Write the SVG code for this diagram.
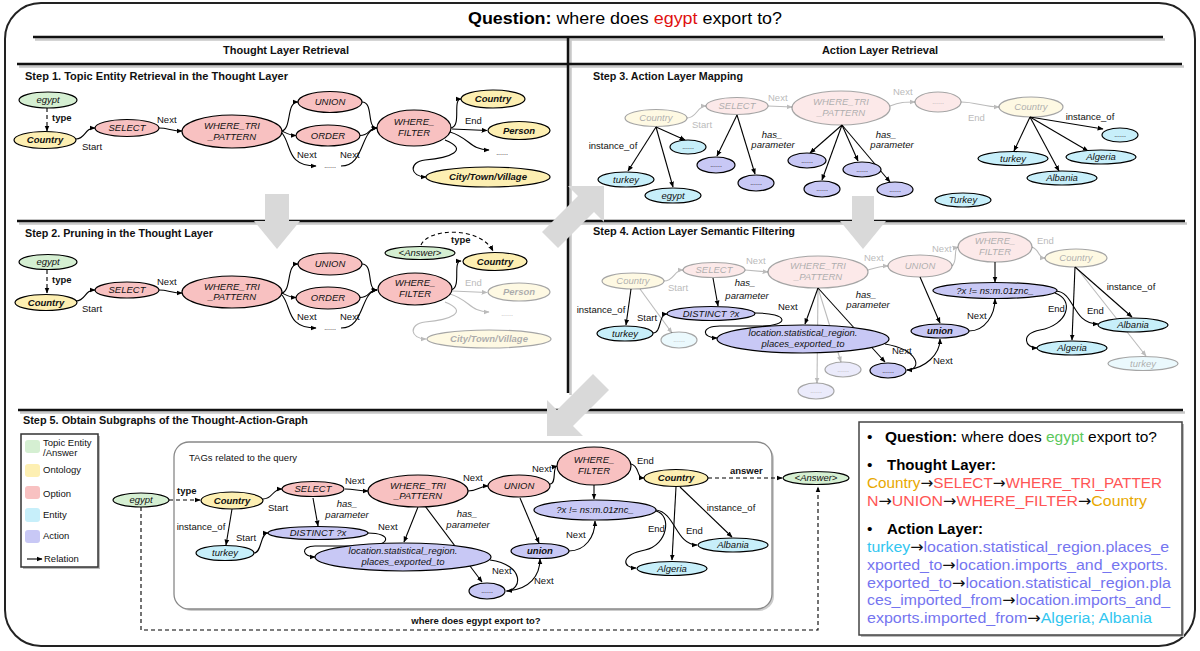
<svg xmlns="http://www.w3.org/2000/svg" width="1200" height="651" viewBox="0 0 1200 651">
<defs>
<marker id="a" viewBox="0 0 10 10" refX="9" refY="5" markerWidth="6" markerHeight="6" markerUnits="userSpaceOnUse" orient="auto"><path d="M0,1 L10,5 L0,9 z" fill="#000"/></marker>
<marker id="ag" viewBox="0 0 10 10" refX="9" refY="5" markerWidth="6" markerHeight="6" markerUnits="userSpaceOnUse" orient="auto"><path d="M0,1 L10,5 L0,9 z" fill="#bbb"/></marker>
<marker id="ab" viewBox="0 0 10 10" refX="9" refY="5" markerWidth="9" markerHeight="9" markerUnits="userSpaceOnUse" orient="auto"><path d="M0,0 L10,5 L0,10 z" fill="#000"/></marker>
</defs>
<style>
.n ellipse{stroke:#000;stroke-width:1.2}
.g{fill:#d5efd2}.y{fill:#fdefb2}.r{fill:#f8c1c1}.c{fill:#c7effa}.p{fill:#c8c8f5}
.t{font-family:"Liberation Sans",Arial,sans-serif;font-size:9.5px;font-style:italic;text-anchor:middle;fill:#111}
.tb{font-weight:bold}
.ts{font-size:7px;font-style:normal}
.e{fill:none;stroke:#000;stroke-width:1.1;marker-end:url(#a)}
.eg{fill:none;stroke:#bbb;stroke-width:1.1;marker-end:url(#ag)}
.d{stroke-dasharray:4 3}
.l{font-family:"Liberation Sans",Arial,sans-serif;font-size:9.5px;fill:#111}
.lc{text-anchor:middle}
.li{font-style:italic}
.lb{font-weight:bold}
.lg{fill:#bbb}
.fd{opacity:.35}
.sep{stroke:#111;stroke-width:2.5;fill:none}
.sh{stroke:#c8c8c8;stroke-width:2.5;fill:none}
.h{font-family:"Liberation Sans",Arial,sans-serif;font-weight:bold;font-size:10px;fill:#111}
.hh{font-size:11px}
.big{fill:#d9d9d9}
.sum{font-family:"Liberation Sans",Arial,sans-serif;font-size:15.5px}
.ar{font-family:"DejaVu Sans",sans-serif;fill:#111}
</style>
<rect width="1200" height="651" fill="#fff"/>
<!-- frame -->
<g id="frame">
<rect x="5" y="3" width="1190" height="643" rx="36" fill="none" stroke="#222" stroke-width="2"/>
<path class="sh" d="M35,39.5 H1165 M570.5,39 V395 M19,66.5 H1184 M19,223.5 H1187 M20,412.5 H1185"/>
<path class="sep" d="M33,37 H1163 M568,37 V393 M17,64 H1182 M17,221 H1185 M18,410 H1183"/>
<text x="468" y="24" font-family="'Liberation Sans',Arial,sans-serif" font-size="16" textLength="314" lengthAdjust="spacingAndGlyphs"><tspan font-weight="bold">Question:</tspan> where does <tspan fill="#e01010">egypt</tspan> export to?</text>
<text class="h hh" x="286" y="54" text-anchor="middle">Thought Layer Retrieval</text>
<text class="h hh" x="880" y="54" text-anchor="middle">Action Layer Retrieval</text>
<text class="h" x="25" y="80" textLength="263" lengthAdjust="spacingAndGlyphs">Step 1. Topic Entity Retrieval in the Thought Layer</text>
<text class="h" x="25" y="237" textLength="188" lengthAdjust="spacingAndGlyphs">Step 2. Pruning in the Thought Layer</text>
<text class="h" x="593" y="80" textLength="150" lengthAdjust="spacingAndGlyphs">Step 3. Action Layer Mapping</text>
<text class="h" x="593" y="235" textLength="202" lengthAdjust="spacingAndGlyphs">Step 4. Action Layer Semantic Filtering</text>
<text class="h" x="23" y="424" textLength="285" lengthAdjust="spacingAndGlyphs">Step 5. Obtain Subgraphs of the Thought-Action-Graph</text>
</g>
<!-- big grey arrows -->
<g id="big-arrows">
<polygon class="big" points="265,194 289,194 289,221 300,221 277,249 254,221 265,221"/>
<polygon class="big" points="852,196 874,196 874,221 886,221 863,249 840,221 852,221"/>
<polygon class="big" points="604,186 568,186 578,196 542,232 558,248 594,212 604,222"/>
<polygon class="big" points="547,436 583,436 573,426 609,390 593,374 557,410 547,400"/>
</g>

<!-- ================= STEP 1 ================= -->
<g id="s1-edges">
<path class="e d" d="M47,108 V131"/>
<text class="l lb" x="52" y="121">type</text>
<path class="e" d="M76,139 C86,139 84,128 95,128"/>
<text class="l" x="82" y="150">Start</text>
<path class="e" d="M159,128 C168,128 172,131 182,131"/>
<text class="l" x="157" y="123">Next</text>
<path class="e" d="M282,131 C292,128 286,102 298,102"/>
<path class="e" d="M282,131 C288,134 290,135.5 296,135.5"/>
<path class="e" d="M282,133 C292,145 286,166 316,166"/>
<text class="l" x="297" y="158">Next</text>
<path class="e" d="M341,166 C365,166 360,130 377,128"/>
<text class="l" x="340" y="158">Next</text>
<path class="e" d="M362,102 C374,102 366,128 377,128"/>
<path class="e" d="M360,135.5 C370,135.5 368,128 377,128"/>
<path class="e" d="M451,128 C462,126 452,99 461,99"/>
<path class="e" d="M452,129 L487,130.5"/>
<text class="l" x="465" y="124">End</text>
<path class="e" d="M450,132 C470,138 470,150 489,150"/>
<path class="e" d="M445,140 C470,150 450,158 425,160 C408,162 410,177 426,177"/>
</g>
<g id="s1-egypt" class="n"><ellipse class="g" cx="48" cy="100" rx="29" ry="8"/><text class="t" x="48" y="103.3">egypt</text></g>
<g id="s1-country" class="n"><ellipse class="y" cx="45" cy="140" rx="31" ry="8.5"/><text class="t tb" x="45" y="143.3">Country</text></g>
<g id="s1-select" class="n"><ellipse class="r" cx="127" cy="128" rx="32" ry="8.5"/><text class="t" x="127" y="131.3">SELECT</text></g>
<g id="s1-wtp" class="n"><ellipse class="r" cx="232" cy="131.5" rx="50" ry="16.5"/><text class="t" x="232" y="129">WHERE_TRI</text><text class="t" x="232" y="139.5">_PATTERN</text></g>
<g id="s1-union" class="n"><ellipse class="r" cx="330" cy="102" rx="32" ry="10.5"/><text class="t" x="330" y="105.3">UNION</text></g>
<g id="s1-order" class="n"><ellipse class="r" cx="328" cy="135.5" rx="32" ry="10.5"/><text class="t" x="328" y="138.8">ORDER</text></g>
<g id="s1-dots"><text class="t ts" x="330" y="168">......</text></g>
<g id="s1-wf" class="n"><ellipse class="r" cx="414" cy="128" rx="37" ry="18"/><text class="t" x="414" y="125">WHERE_</text><text class="t" x="414" y="135.5">FILTER</text></g>
<g id="s1-country2" class="n"><ellipse class="y" cx="493" cy="99" rx="32" ry="9"/><text class="t tb" x="493" y="102.3">Country</text></g>
<g id="s1-person" class="n"><ellipse class="y" cx="519" cy="130.5" rx="31" ry="9"/><text class="t tb" x="519" y="133.8">Person</text></g>
<g id="s1-dots2"><text class="t ts" x="502" y="155">......</text></g>
<g id="s1-city" class="n"><ellipse class="y" cx="488" cy="177" rx="62" ry="10"/><text class="t tb" x="488" y="180.3">City/Town/Village</text></g>

<!-- ================= STEP 2 ================= -->
<g id="step2" transform="translate(0,162)">
<g id="s2-edges">
<path class="e d" d="M47,108 V131" marker-end="url(#ab)"/>
<text class="l lb" x="52" y="121">type</text>
<path class="e" d="M76,139 C86,139 84,128 95,128"/>
<text class="l" x="82" y="150">Start</text>
<path class="e" d="M159,128 C168,128 172,131 182,131"/>
<text class="l" x="157" y="123">Next</text>
<path class="e" d="M282,131 C292,128 286,102 298,102"/>
<path class="e" d="M282,131 C288,134 290,135.5 296,135.5"/>
<path class="e" d="M282,133 C292,145 286,166 316,166"/>
<text class="l" x="297" y="158">Next</text>
<path class="e" d="M341,166 C365,166 360,130 377,128"/>
<text class="l" x="340" y="158">Next</text>
<path class="e" d="M362,102 C374,102 366,128 377,128"/>
<path class="e" d="M360,135.5 C370,135.5 368,128 377,128"/>
<path class="e" d="M451,128 C462,126 452,99 461,99"/>
<path class="eg" d="M452,129 L487,130.5"/>
<text class="l lg" x="465" y="124">End</text>
<path class="eg" d="M450,132 C470,138 470,150 489,150"/>
<path class="eg" d="M445,140 C470,150 450,158 425,160 C408,162 410,177 426,177"/>
<path class="e d" d="M421,83 C428,66 480,64 493,89" marker-end="url(#ab)"/>
<text class="l lb" x="451" y="81">type</text>
</g>
<g id="s2-egypt" class="n"><ellipse class="g" cx="48" cy="100" rx="29" ry="7.5"/><text class="t" x="48" y="103.3">egypt</text></g>
<g id="s2-country" class="n"><ellipse class="y" cx="46" cy="140.5" rx="31" ry="8"/><text class="t tb" x="46" y="143.8">Country</text></g>
<g id="s2-select" class="n"><ellipse class="r" cx="127" cy="128" rx="32" ry="8"/><text class="t" x="127" y="131.3">SELECT</text></g>
<g id="s2-wtp" class="n"><ellipse class="r" cx="232" cy="130" rx="50" ry="16"/><text class="t" x="232" y="127.5">WHERE_TRI</text><text class="t" x="232" y="138">_PATTERN</text></g>
<g id="s2-union" class="n"><ellipse class="r" cx="330" cy="102" rx="32" ry="11"/><text class="t" x="330" y="105.3">UNION</text></g>
<g id="s2-order" class="n"><ellipse class="r" cx="328" cy="136" rx="32" ry="11"/><text class="t" x="328" y="139.3">ORDER</text></g>
<g id="s2-dots"><text class="t ts" x="330" y="168">......</text></g>
<g id="s2-wf" class="n"><ellipse class="r" cx="415" cy="127" rx="37" ry="16"/><text class="t" x="415" y="124">WHERE_</text><text class="t" x="415" y="134.5">FILTER</text></g>
<g id="s2-answer" class="n"><ellipse class="g" cx="420" cy="91" rx="35" ry="6.5"/><text class="t" x="420" y="94.3">&lt;Answer&gt;</text></g>
<g id="s2-country2" class="n"><ellipse class="y" cx="495" cy="99.5" rx="32" ry="9"/><text class="t tb" x="495" y="102.8">Country</text></g>
<g id="s2-person" class="n fd"><ellipse class="y" cx="519" cy="130" rx="31" ry="9"/><text class="t tb" x="519" y="133.3">Person</text></g>
<g id="s2-dots2" class="fd"><text class="t ts" x="507" y="154">......</text></g>
<g id="s2-city" class="n fd"><ellipse class="y" cx="489" cy="177" rx="62" ry="9"/><text class="t tb" x="489" y="180.3">City/Town/Village</text></g>
</g>

<!-- ================= STEP 3 ================= -->
<g id="s3-edges">
<path class="eg" d="M687,118 C697,118 697,106 706,106"/>
<text class="l lg" x="692" y="128">Start</text>
<path class="eg" d="M768,106 L792,107"/>
<text class="l lg" x="768" y="101">Next</text>
<path class="eg" d="M890,106 C900,102 905,102 915,102"/>
<text class="l lg" x="893" y="95">Next</text>
<path class="eg" d="M961,102 C975,102 985,107 999,107"/>
<text class="l lg" x="968" y="121">End</text>
<path class="e" d="M656,127 L628,171"/>
<path class="e" d="M656,127 L673,187"/>
<path class="e" d="M656,127 L685,140"/>
<text class="l lc" x="613" y="149">instance_of</text>
<path class="e" d="M737,115 L717,156"/>
<path class="e" d="M737,115 L755,174"/>
<text class="l li lc" x="772" y="138">has_</text>
<text class="l li lc" x="773" y="148">parameter</text>
<path class="e" d="M842,125 L810,153"/>
<path class="e" d="M842,125 L822,180"/>
<path class="e" d="M842,125 L858,161"/>
<path class="e" d="M842,125 L890,182"/>
<text class="l li lc" x="886" y="138">has_</text>
<text class="l li lc" x="892" y="148">parameter</text>
<path class="e" d="M1030,117 L1014,151"/>
<path class="e" d="M1030,117 L1059,171"/>
<path class="e" d="M1030,117 L1088,151"/>
<path class="e" d="M1030,117 L1103,129"/>
<text class="l lc" x="1090" y="120">instance_of</text>
</g>
<g id="s3-country" class="n fd"><ellipse class="y" cx="656" cy="118" rx="31" ry="8.5"/><text class="t" x="656" y="121.3">Country</text></g>
<g id="s3-select" class="n fd"><ellipse class="r" cx="737" cy="106" rx="31" ry="8.5"/><text class="t" x="737" y="109.3">SELECT</text></g>
<g id="s3-wtp" class="n fd"><ellipse class="r" cx="841" cy="108" rx="49" ry="17"/><text class="t" x="841" y="105">WHERE_TRI</text><text class="t" x="841" y="115.5">_PATTERN</text></g>
<g id="s3-dotsr" class="n fd"><ellipse class="r" cx="938" cy="102" rx="23" ry="10"/><text class="t ts" x="938" y="104">......</text></g>
<g id="s3-country2" class="n fd"><ellipse class="y" cx="1031" cy="107" rx="32" ry="10"/><text class="t" x="1031" y="110.3">Country</text></g>
<g id="s3-dotsc" class="n"><ellipse class="c" cx="688" cy="147" rx="18" ry="7"/><text class="t ts" x="688" y="149">......</text></g>
<g id="s3-turkey" class="n"><ellipse class="c" cx="626" cy="179.5" rx="28" ry="7.5"/><text class="t" x="626" y="182.8">turkey</text></g>
<g id="s3-egypt" class="n"><ellipse class="c" cx="673" cy="195.5" rx="28" ry="7.5"/><text class="t" x="673" y="198.8">egypt</text></g>
<g id="s3-p1" class="n"><ellipse class="p" cx="716" cy="165" rx="19" ry="8"/><text class="t ts" x="716" y="167">......</text></g>
<g id="s3-p2" class="n"><ellipse class="p" cx="756" cy="183" rx="18" ry="8"/><text class="t ts" x="756" y="185">......</text></g>
<g id="s3-p3" class="n"><ellipse class="p" cx="807" cy="160.5" rx="19" ry="7.5"/><text class="t ts" x="807" y="162.5">......</text></g>
<g id="s3-p4" class="n"><ellipse class="p" cx="822" cy="189" rx="18" ry="8"/><text class="t ts" x="822" y="191">......</text></g>
<g id="s3-p5" class="n"><ellipse class="p" cx="862" cy="169.5" rx="19" ry="7.5"/><text class="t ts" x="862" y="171.5">......</text></g>
<g id="s3-p6" class="n"><ellipse class="p" cx="895" cy="189.5" rx="18" ry="7.5"/><text class="t ts" x="895" y="191.5">......</text></g>
<g id="s3-dotsc2" class="n"><ellipse class="c" cx="1120" cy="135" rx="18" ry="7"/><text class="t ts" x="1120" y="137">......</text></g>
<g id="s3-turkey2" class="n"><ellipse class="c" cx="1013" cy="158.5" rx="35" ry="7"/><text class="t" x="1013" y="161.8">turkey</text></g>
<g id="s3-algeria" class="n"><ellipse class="c" cx="1101" cy="157" rx="35" ry="7"/><text class="t" x="1101" y="160.3">Algeria</text></g>
<g id="s3-albania" class="n"><ellipse class="c" cx="1062" cy="178" rx="35" ry="7"/><text class="t" x="1062" y="181.3">Albania</text></g>
<g id="s3-turkey3" class="n"><ellipse class="c" cx="963" cy="200" rx="28" ry="7"/><text class="t" x="963" y="203.3">Turkey</text></g>

<!-- ================= STEP 4 ================= -->
<g id="s4-edges">
<path class="eg" d="M664,281 C674,281 674,270 683,270"/>
<text class="l lg" x="668" y="291">Start</text>
<path class="eg" d="M745,270 L768,272"/>
<text class="l lg" x="746" y="264">Next</text>
<path class="eg" d="M868,270 C875,268 880,266 888,266"/>
<text class="l lg" x="864" y="261">Next</text>
<path class="eg" d="M952,266 C958,262 953,248 958,247"/>
<text class="l lg" x="932" y="252">Next</text>
<path class="eg" d="M1032,247 C1040,250 1038,258 1045,258"/>
<text class="l lg" x="1037" y="244">End</text>
<path class="eg" d="M640,289 L672,333"/>
<path class="eg" d="M818,288 L817,383"/>
<path class="eg" d="M818,288 L841,362"/>
<path class="eg" d="M1076,267 L1146,356"/>
<path class="e" d="M631,289 L626,325"/>
<text class="l lc" x="601" y="313">instance_of</text>
<path class="e" d="M653,333 C662,333 658,314 667,314"/>
<text class="l" x="637" y="321">Start</text>
<path class="e" d="M713,278 L718,306"/>
<text class="l li lc" x="745" y="286">has_</text>
<text class="l li lc" x="747" y="299">parameter</text>
<path class="e" d="M755,313 C790,313 790,326 760,326 L720,326 C700,326 702,338 717,338"/>
<text class="l" x="778" y="310">Next</text>
<path class="e" d="M818,288 L805,324"/>
<path class="e" d="M818,288 L885,362"/>
<text class="l li lc" x="866" y="298">has_</text>
<text class="l li lc" x="868" y="308">parameter</text>
<path class="e" d="M885,344 C920,350 922,370 907,370"/>
<text class="l" x="892" y="354">Next</text>
<path class="e" d="M907,370 C925,368 940,355 940,339"/>
<text class="l" x="933" y="364">Next</text>
<path class="e" d="M920,277 L940,323"/>
<path class="e" d="M969,331 C985,331 995,315 995,299"/>
<text class="l" x="967" y="319">Next</text>
<path class="e" d="M995,262 L995,282"/>
<path class="e" d="M1055,293 C1075,300 1068,325 1040,330 C1020,334 1025,348 1037,348"/>
<text class="l" x="1048" y="312">End</text>
<path class="e" d="M1056,291 C1075,292 1072,324 1098,324"/>
<text class="l" x="1087" y="314">End</text>
<path class="e" d="M1075,267 L1072,340"/>
<path class="e" d="M1075,267 L1132,317"/>
<text class="l lc" x="1131" y="290">instance_of</text>
</g>
<g id="s4-country" class="n fd"><ellipse class="y" cx="633" cy="281" rx="31" ry="8"/><text class="t" x="633" y="284.3">Country</text></g>
<g id="s4-select" class="n fd"><ellipse class="r" cx="714" cy="270" rx="31" ry="7.5"/><text class="t" x="714" y="273.3">SELECT</text></g>
<g id="s4-wtp" class="n fd"><ellipse class="r" cx="818" cy="272" rx="50" ry="16"/><text class="t" x="818" y="269">WHERE_TRI</text><text class="t" x="818" y="279.5">_PATTERN</text></g>
<g id="s4-union" class="n fd"><ellipse class="r" cx="920" cy="266" rx="32" ry="11"/><text class="t" x="920" y="269.3">UNION</text></g>
<g id="s4-wf" class="n fd"><ellipse class="r" cx="995" cy="247" rx="37" ry="15"/><text class="t" x="995" y="244">WHERE_</text><text class="t" x="995" y="254.5">FILTER</text></g>
<g id="s4-country2" class="n fd"><ellipse class="y" cx="1076" cy="258" rx="31" ry="9"/><text class="t" x="1076" y="261.3">Country</text></g>
<g id="s4-turkey" class="n"><ellipse class="c" cx="625" cy="333.5" rx="28" ry="7.5"/><text class="t" x="625" y="336.8">turkey</text></g>
<g id="s4-dotsc" class="n fd"><ellipse class="c" cx="679" cy="340" rx="18" ry="8"/><text class="t ts" x="679" y="342">......</text></g>
<g id="s4-distinct" class="n"><ellipse class="p" cx="711" cy="313.5" rx="44" ry="7"/><text class="t" x="711" y="316.8">DISTINCT ?x</text></g>
<g id="s4-location" class="n"><ellipse class="p" cx="803" cy="339" rx="86" ry="14"/><text class="t" x="803" y="336">location.statistical_region.</text><text class="t" x="803" y="346.5">places_exported_to</text></g>
<g id="s4-dotsp1" class="n fd"><ellipse class="p" cx="816" cy="391" rx="18" ry="8"/><text class="t ts" x="816" y="393">......</text></g>
<g id="s4-dotsp2" class="n fd"><ellipse class="p" cx="843" cy="369.5" rx="18" ry="7.5"/><text class="t ts" x="843" y="371.5">......</text></g>
<g id="s4-dotsp" class="n"><ellipse class="p" cx="888" cy="370.5" rx="18" ry="7.5"/><text class="t ts" x="888" y="372.5">......</text></g>
<g id="s4-filter" class="n"><ellipse class="p" cx="995" cy="290.5" rx="62" ry="8"/><text class="t" x="995" y="293.8">?x != ns:m.01znc_</text></g>
<g id="s4-unionl" class="n"><ellipse class="p" cx="940" cy="331" rx="29" ry="7"/><text class="t tb" x="940" y="334.3">union</text></g>
<g id="s4-algeria" class="n"><ellipse class="c" cx="1072" cy="348" rx="35" ry="7"/><text class="t" x="1072" y="351.3">Algeria</text></g>
<g id="s4-albania" class="n"><ellipse class="c" cx="1133" cy="325" rx="35" ry="7"/><text class="t" x="1133" y="328.3">Albania</text></g>
<g id="s4-turkey2" class="n fd"><ellipse class="c" cx="1143" cy="363.5" rx="35" ry="7"/><text class="t" x="1143" y="366.8">turkey</text></g>

<!-- ================= STEP 5 ================= -->
<g id="legend">
<rect x="23" y="436" width="77" height="133" fill="#bbb"/>
<rect x="21" y="434" width="77" height="133" fill="#fff" stroke="#333" stroke-width="1.5"/>
<rect x="25" y="440" width="15" height="13" rx="3" fill="#d5efd2"/>
<rect x="25" y="464" width="15" height="13" rx="3" fill="#fdefb2"/>
<rect x="25" y="486" width="15" height="13" rx="3" fill="#f8c1c1"/>
<rect x="25" y="508" width="15" height="14" rx="3" fill="#c7effa"/>
<rect x="25" y="530" width="15" height="13" rx="3" fill="#c8c8f5"/>
<path class="e" d="M27,559 H42" marker-end="url(#ab)"/>
<text class="l" x="43" y="446">Topic Entity</text>
<text class="l" x="43" y="456">/Answer</text>
<text class="l" x="43" y="473">Ontology</text>
<text class="l" x="43" y="497">Option</text>
<text class="l" x="43" y="518">Entity</text>
<text class="l" x="43" y="539">Action</text>
<text class="l" x="44" y="562">Relation</text>
</g>
<g id="tag-box">
<rect x="176" y="444" width="598" height="167" rx="15" fill="#ccc"/>
<rect x="174" y="442" width="598" height="167" rx="15" fill="#fff" stroke="#888" stroke-width="1.3"/>
<text class="l" x="189" y="461" font-size="10">TAGs related to the query</text>
</g>
<g id="s5-edges">
<path class="e d" d="M169,500 L200,500" marker-end="url(#ab)"/>
<text class="l lb" x="177" y="494">type</text>
<path class="e" d="M263,499 C273,499 272,489 282,489"/>
<text class="l" x="268" y="511">Start</text>
<path class="e" d="M345,489 C355,489 358,491 368,491"/>
<text class="l" x="345" y="484">Next</text>
<path class="e" d="M468,491 C478,491 480,486 488,486"/>
<text class="l" x="463" y="481">Next</text>
<path class="e" d="M550,484 C557,484 552,467 557,466"/>
<text class="l" x="532" y="472">Next</text>
<path class="e" d="M631,464 C640,466 636,478 644,478"/>
<text class="l" x="637" y="464">End</text>
<path class="e d" d="M708,478 L782,478" marker-end="url(#ab)"/>
<text class="l lb" x="730" y="474">answer</text>
<path class="e" d="M313,498 L318,526"/>
<text class="l li lc" x="347" y="507">has_</text>
<text class="l li lc" x="347" y="518">parameter</text>
<path class="e" d="M232,509 L226,545"/>
<text class="l lc" x="201" y="530">instance_of</text>
<path class="e" d="M254,553 C262,553 260,533 268,533"/>
<text class="l" x="236" y="541">Start</text>
<path class="e" d="M368,533 C392,533 392,546 365,546 L315,546 C300,546 302,557 315,557"/>
<text class="l" x="378" y="530">Next</text>
<path class="e" d="M418,507 L404,542"/>
<path class="e" d="M425,506 L482,582"/>
<text class="l li lc" x="467" y="517">has_</text>
<text class="l li lc" x="468" y="528">parameter</text>
<path class="e" d="M490,560 C525,565 522,590 507,591"/>
<text class="l" x="492" y="574">Next</text>
<path class="e" d="M506,591 C530,590 540,575 540,559"/>
<text class="l" x="534" y="584">Next</text>
<path class="e" d="M520,498 L539,543"/>
<path class="e" d="M569,551 C585,551 595,537 595,521"/>
<text class="l" x="566" y="538">Next</text>
<path class="e" d="M594,485 L594,499"/>
<path class="e" d="M656,511 C672,515 668,545 645,550 C620,555 622,568 636,568"/>
<text class="l" x="648" y="532">End</text>
<path class="e" d="M656,510 C675,512 676,545 697,545"/>
<text class="l" x="686" y="534">End</text>
<path class="e" d="M676,487 L672,560"/>
<path class="e" d="M680,487 L732,537"/>
<text class="l lc" x="731" y="511">instance_of</text>
<path class="e d" d="M141,507 L141,630 L818,630 L818,487" marker-end="url(#ab)"/>
<text class="l lb lc" x="476" y="624" font-size="10">where does egypt export to?</text>
</g>
<g id="s5-egypt" class="n"><ellipse class="g" cx="141" cy="500" rx="28" ry="7"/><text class="t" x="141" y="503.3">egypt</text></g>
<g id="s5-country" class="n"><ellipse class="y" cx="232" cy="500.5" rx="31" ry="8.5"/><text class="t tb" x="232" y="503.8">Country</text></g>
<g id="s5-select" class="n"><ellipse class="r" cx="313" cy="489" rx="31" ry="7.5"/><text class="t" x="313" y="492.3">SELECT</text></g>
<g id="s5-wtp" class="n"><ellipse class="r" cx="418" cy="491" rx="50" ry="16"/><text class="t" x="418" y="488.5">WHERE_TRI</text><text class="t" x="418" y="499">_PATTERN</text></g>
<g id="s5-union" class="n"><ellipse class="r" cx="519" cy="486" rx="31" ry="11"/><text class="t" x="519" y="489.3">UNION</text></g>
<g id="s5-wf" class="n"><ellipse class="r" cx="594" cy="466" rx="37" ry="19"/><text class="t" x="594" y="463">WHERE_</text><text class="t" x="594" y="473.5">FILTER</text></g>
<g id="s5-country2" class="n"><ellipse class="y" cx="676" cy="478" rx="32" ry="8.5"/><text class="t tb" x="676" y="481.3">Country</text></g>
<g id="s5-answer" class="n"><ellipse class="g" cx="816" cy="478" rx="33" ry="6.5"/><text class="t" x="816" y="481.3">&lt;Answer&gt;</text></g>
<g id="s5-turkey" class="n"><ellipse class="c" cx="225" cy="553" rx="29" ry="7.5"/><text class="t" x="225" y="556.3">turkey</text></g>
<g id="s5-distinct" class="n"><ellipse class="p" cx="318" cy="533" rx="50" ry="6.5"/><text class="t" x="318" y="536.3">DISTINCT ?x</text></g>
<g id="s5-location" class="n"><ellipse class="p" cx="403" cy="557" rx="88" ry="14"/><text class="t" x="403" y="554">location.statistical_region.</text><text class="t" x="403" y="564.5">places_exported_to</text></g>
<g id="s5-dots" class="n"><ellipse class="p" cx="487" cy="591" rx="18" ry="8"/><text class="t ts" x="487" y="593">......</text></g>
<g id="s5-unionl" class="n"><ellipse class="p" cx="540" cy="551" rx="29" ry="7.5"/><text class="t tb" x="540" y="554.3">union</text></g>
<g id="s5-filter" class="n"><ellipse class="p" cx="595" cy="510" rx="61" ry="10"/><text class="t" x="595" y="513.3">?x != ns:m.01znc_</text></g>
<g id="s5-albania" class="n"><ellipse class="c" cx="733" cy="545" rx="35" ry="7"/><text class="t" x="733" y="548.3">Albania</text></g>
<g id="s5-algeria" class="n"><ellipse class="c" cx="672" cy="568.5" rx="35" ry="7"/><text class="t" x="672" y="571.8">Algeria</text></g>

<!-- summary box -->
<g id="summary">
<rect x="861" y="424" width="323" height="213" fill="#bbb"/>
<rect x="859" y="422" width="323" height="213" fill="#fff" stroke="#444" stroke-width="1.5"/>
<g class="sum">
<text x="867" y="442">•</text>
<text x="885" y="442" textLength="272" lengthAdjust="spacingAndGlyphs"><tspan font-weight="bold">Question:</tspan> where does <tspan fill="#5cc85c">egypt</tspan> export to?</text>
<text x="867" y="470">•</text>
<text x="887" y="470" font-weight="bold" textLength="109" lengthAdjust="spacingAndGlyphs">Thought Layer:</text>
<text x="867" y="488" textLength="295" lengthAdjust="spacingAndGlyphs"><tspan fill="#e8a800">Country</tspan><tspan class="ar">→</tspan><tspan fill="#ff5555">SELECT</tspan><tspan class="ar">→</tspan><tspan fill="#ff5555">WHERE_TRI_PATTER</tspan></text>
<text x="867" y="506" textLength="280" lengthAdjust="spacingAndGlyphs"><tspan fill="#ff5555">N</tspan><tspan class="ar">→</tspan><tspan fill="#ff5555">UNION</tspan><tspan class="ar">→</tspan><tspan fill="#ff5555">WHERE_FILTER</tspan><tspan class="ar">→</tspan><tspan fill="#e8a800">Country</tspan></text>
<text x="867" y="534">•</text>
<text x="887" y="534" font-weight="bold" textLength="96" lengthAdjust="spacingAndGlyphs">Action Layer:</text>
<text x="867" y="552" textLength="302" lengthAdjust="spacingAndGlyphs"><tspan fill="#33c6f0">turkey</tspan><tspan class="ar">→</tspan><tspan fill="#7575f0">location.statistical_region.places_e</tspan></text>
<text x="867" y="570" textLength="301" lengthAdjust="spacingAndGlyphs"><tspan fill="#7575f0">xported_to</tspan><tspan class="ar">→</tspan><tspan fill="#7575f0">location.imports_and_exports.</tspan></text>
<text x="867" y="588" textLength="304" lengthAdjust="spacingAndGlyphs"><tspan fill="#7575f0">exported_to</tspan><tspan class="ar">→</tspan><tspan fill="#7575f0">location.statistical_region.pla</tspan></text>
<text x="867" y="605" textLength="303" lengthAdjust="spacingAndGlyphs"><tspan fill="#7575f0">ces_imported_from</tspan><tspan class="ar">→</tspan><tspan fill="#7575f0">location.imports_and_</tspan></text>
<text x="867" y="623" textLength="285" lengthAdjust="spacingAndGlyphs"><tspan fill="#7575f0">exports.imported_from</tspan><tspan class="ar">→</tspan><tspan fill="#33c6f0">Algeria; Albania</tspan></text>
</g>
</g>
</svg>
